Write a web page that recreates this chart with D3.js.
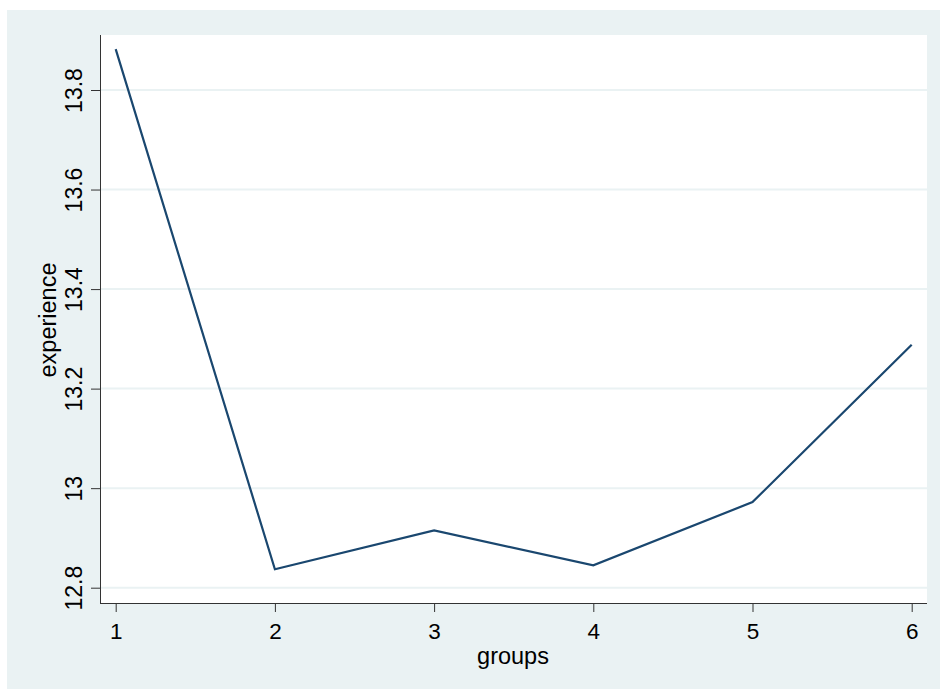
<!DOCTYPE html>
<html><head><meta charset="utf-8">
<script src="https://cdn.jsdelivr.net/npm/d3@7"></script>
<style>body{margin:0;background:#fff}svg{display:block}</style>
</head><body>
<svg id="c" width="940" height="690"></svg>
<script>
const groups = [1, 2, 3, 4, 5, 6];
const experience = [13.882, 12.837, 12.915, 12.845, 12.972, 13.288];
const yTicks = [12.8, 13, 13.2, 13.4, 13.6, 13.8];
const xTicks = [1, 2, 3, 4, 5, 6];

const svg = d3.select("#c");
const font = "Liberation Sans, Arial, Helvetica, sans-serif";
svg.append("rect").attr("x", 7).attr("y", 10).attr("width", 933).attr("height", 679).attr("fill", "#eaf2f3");

const L = 100, R = 927, T = 35, B = 603;
svg.append("rect").attr("x", L).attr("y", T).attr("width", R - L).attr("height", B - T).attr("fill", "#fff");

const x = d3.scaleLinear().domain([1, 6]).range([115.7, 911.7]);
const y = d3.scaleLinear().domain([12.8, 13.8]).range([587.7, 90]);

// gridlines
svg.append("g").selectAll("line").data(yTicks).join("line")
  .attr("x1", L).attr("x2", R).attr("y1", d => y(d)).attr("y2", d => y(d))
  .attr("stroke", "#eaf2f3").attr("stroke-width", 2);

// line
const line = d3.line().x((d, i) => x(groups[i])).y(d => y(d));
svg.append("path").datum(experience).attr("d", line)
  .attr("fill", "none").attr("stroke", "#1a476f").attr("stroke-width", 2.2)
  .attr("stroke-linejoin", "miter");

// y axis
const yAxis = d3.axisLeft(y).tickValues(yTicks).tickSize(9).tickPadding(0)
  .tickFormat(d => d3.format("")(+d.toFixed(1)));
const gy = svg.append("g").attr("transform", `translate(${L},0)`).call(yAxis);
gy.select(".domain").attr("d", `M0.5,${T}V${B}`).attr("stroke", "#333");
gy.selectAll(".tick line").attr("stroke", "#333");
gy.selectAll(".tick text").attr("transform", "rotate(-90)").attr("x", 0).attr("y", -18)
  .attr("dy", 0).attr("text-anchor", "middle").attr("font-size", 23).attr("font-family", font).attr("fill", "#000");

// x axis
const xAxis = d3.axisBottom(x).tickValues(xTicks).tickSize(9).tickPadding(0).tickFormat(d3.format("d"));
const gx = svg.append("g").attr("transform", `translate(0,${B})`).call(xAxis);
gx.select(".domain").attr("d", `M${L},0.5H${R}`).attr("stroke", "#333");
gx.selectAll(".tick line").attr("stroke", "#333");
gx.selectAll(".tick text").attr("y", 36).attr("dy", 0).attr("font-size", 22.5).attr("font-family", font).attr("fill", "#000");

// titles
svg.append("text").attr("x", 513).attr("y", 664).attr("text-anchor", "middle")
  .attr("font-size", 23.5).attr("font-family", font).text("groups");
svg.append("text").attr("transform", "translate(56,320) rotate(-90)").attr("text-anchor", "middle")
  .attr("font-size", 23.5).attr("font-family", font).text("experience");
</script>
</body></html>
